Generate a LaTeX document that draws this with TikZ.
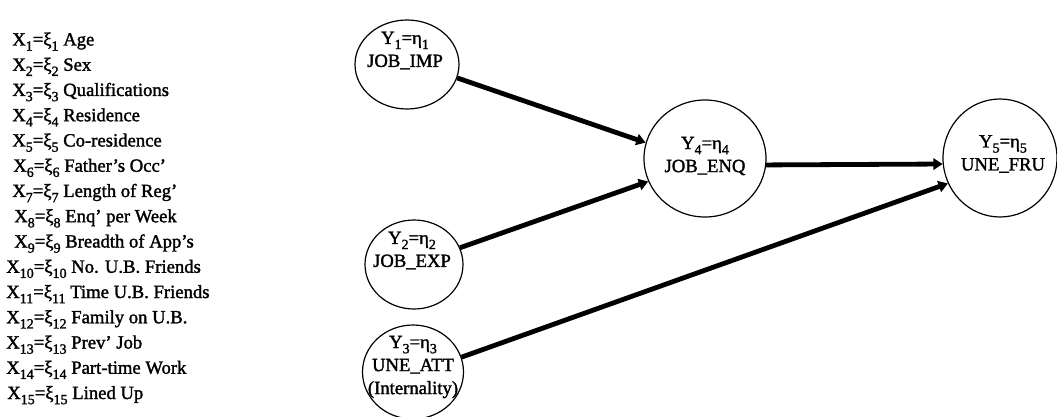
\documentclass[tikz,border=0pt]{standalone}
\usepackage{fontspec}
\setmainfont{Liberation Serif}
\newfontfamily\heavy[FakeBold=1.6]{Liberation Serif}
\usetikzlibrary{shapes.geometric,arrows.meta}
% lowered subscript used in the variable names
\newcommand\lsub[1]{\raisebox{-0.6ex}{\fontsize{10.5}{10.5}\selectfont #1}}
\newcommand\xv[2]{X\lsub{#1}=ξ\lsub{#1} #2}
\newcommand\yv[1]{Y\lsub{#1}=η\lsub{#1}}
\begin{document}
\begin{tikzpicture}[x=0.75pt,y=-0.75pt,
  ell/.style={draw,ellipse,line width=0.9pt,inner sep=0pt},
  lab/.style={align=center,inner sep=0pt,font=\heavy\fontsize{14}{17.25}\selectfont},
  leg/.style={anchor=base west,inner sep=0pt,font=\heavy\fontsize{14}{17}\selectfont},
  conn/.style={line width=3.6pt,-{Triangle[length=7pt,width=8.5pt]}}]
\useasboundingbox (0,0) rectangle (1057,417);

% observed variables
\node[leg] (x1)  at (12,45.5)   {\xv{1}{Age}};
\node[leg] (x2)  at (12,70.75)  {\xv{2}{Sex}};
\node[leg] (x3)  at (12,96)     {\xv{3}{Qualifications}};
\node[leg] (x4)  at (12,121.25) {\xv{4}{Residence}};
\node[leg] (x5)  at (12,146.5)  {\xv{5}{Co-residence}};
\node[leg] (x6)  at (13,171.75) {\xv{6}{Father’s Occ’}};
\node[leg] (x7)  at (12,197)    {\xv{7}{Length of Reg’}};
\node[leg] (x8)  at (14,222.25) {\xv{8}{Enq’ per Week}};
\node[leg] (x9)  at (14,247.5)  {\xv{9}{Breadth of App’s}};
\node[leg] (x10) at (6,272.75)  {\xv{10}{No. U.B. Friends}};
\node[leg] (x11) at (6,298)     {\xv{11}{Time U.B. Friends}};
\node[leg] (x12) at (6,323.25)  {\xv{12}{Family on U.B.}};
\node[leg] (x13) at (6,348.5)   {\xv{13}{Prev’ Job}};
\node[leg] (x14) at (6,373.75)  {\xv{14}{Part-time Work}};
\node[leg] (x15) at (7,399)     {\xv{15}{Lined Up}};

% latent variables
\node[ell,minimum width=78pt,minimum height=66.75pt] (y1) at (407,64.5) {};
\node[ell,minimum width=73.5pt,minimum height=66.75pt] (y2) at (414,264.5) {};
\node[ell,minimum width=75.75pt,minimum height=70.5pt] (y3) at (413,372) {};
\node[ell,minimum width=91.5pt,minimum height=87.75pt] (y4) at (705,158.5) {};
\node[ell,minimum width=85.5pt,minimum height=88.5pt] (y5) at (1000,158) {};

\node[lab] (t1) at (405,50.5) {\yv{1}\\JOB\_IMP};
\node[lab] (t2) at (412,250.5) {\yv{2}\\JOB\_EXP};
\node[lab] (t3) at (413,367) {\yv{3}\\UNE\_ATT\\(Internality)};
\node[lab] (t4) at (705,156) {\yv{4}\\JOB\_ENQ};
\node[lab] (t5) at (1003,154) {\yv{5}\\UNE\_FRU};

% paths
\draw[conn] (y1.-15) -- (y4.165);
\draw[conn] (y2.20.5) -- (y4.202.8);
\draw[conn] (y3.17) -- (y5.206);
\draw[conn] (y4.-6) -- (y5.186.6);
\end{tikzpicture}
\end{document}
